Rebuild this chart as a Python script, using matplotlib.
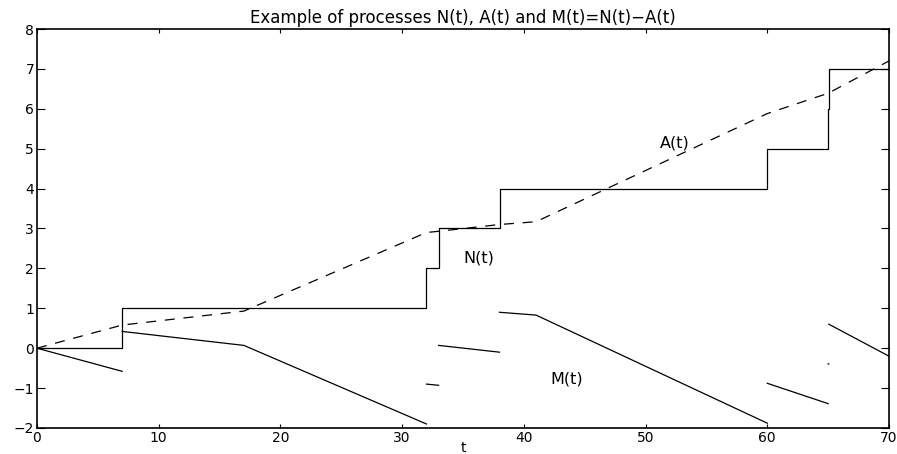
import numpy as np
from matplotlib import pyplot as plt

plt.rcParams['font.family'] = ['DejaVu Sans']

# arrival times of N(t) (last two are almost simultaneous)
jump_times = [7, 32, 33, 38, 60, 65, 65.05]

# breakpoints of the compensator A(t)
a_t = [0, 7, 17, 32, 33, 38, 41, 60, 65, 70]
a_val = [0, 0.58, 0.93, 2.90, 2.93, 3.10, 3.17, 5.88, 6.39, 7.20]

T_END = 70

fig = plt.figure(figsize=(8.97, 4.54), dpi=100)
ax = fig.add_axes([0.0412, 0.0573, 0.9499, 0.8788])

# N(t) step function
n_x = [0]
n_y = [0]
for k, tj in enumerate(jump_times):
    n_x += [tj, tj]
    n_y += [k, k + 1]
n_x.append(T_END)
n_y.append(len(jump_times))
ax.plot(n_x, n_y, color='k', lw=0.9)

# A(t) dashed
ax.plot(a_t, a_val, color='k', lw=0.9, ls=(0, (8, 7)))

# M(t) = N(t) - A(t), drawn piecewise between jumps
edges = [0] + jump_times + [T_END]
for k in range(len(edges) - 1):
    t0, t1 = edges[k], edges[k + 1]
    inner = [t for t in a_t if t0 < t < t1]
    ts = np.array([t0] + inner + [t1])
    ax.plot(ts, k - np.interp(ts, a_t, a_val), color='k', lw=0.9)

ax.text(52.4, 5.14, 'A(t)', fontsize=11.5, ha='center', va='center')
ax.text(36.3, 2.26, 'N(t)', fontsize=11.5, ha='center', va='center')
ax.text(43.5, -0.77, 'M(t)', fontsize=11.5, ha='center', va='center')

ax.set_xlim(0, 70)
ax.set_ylim(-2, 8)
ax.set_xticks(range(0, 71, 10))
ax.set_yticks(range(-2, 9))
ax.set_title('Example of processes N(t), A(t) and M(t)=N(t)\u2212A(t)', fontsize=12, pad=4)
ax.set_xlabel('t', fontsize=10, labelpad=-2.5)
ax.tick_params(axis='both', direction='in', top=True, right=True, labelsize=10, width=0.8, pad=2)
ax.tick_params(axis='x', length=3)
ax.tick_params(axis='y', length=6)
for s in ax.spines.values():
    s.set_linewidth(1.2)

fig.savefig('out.png', dpi=100)
